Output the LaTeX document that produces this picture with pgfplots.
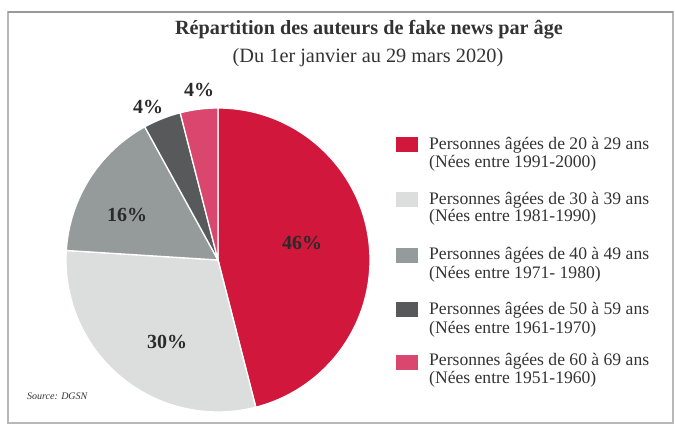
\documentclass[border=0pt]{standalone}
\usepackage{pgfplots}
\pgfplotsset{compat=1.18}
\usepackage{pgfplotstable}
\usepackage{fontspec}
\setmainfont{Liberation Serif}
\definecolor{slice0}{HTML}{D2173C}
\definecolor{slice1}{HTML}{DCDDDD}
\definecolor{slice2}{HTML}{959B9B}
\definecolor{slice3}{HTML}{58595B}
\definecolor{slice4}{HTML}{D9476F}
\definecolor{txt}{HTML}{333333}
\definecolor{lbl}{HTML}{2A2A2A}
\pgfplotstableread{
value
46
30
16
4
4
}\piedata
\begin{document}
\begin{tikzpicture}
\begin{axis}[width=675pt, height=426pt, scale only axis,
  xmin=0, xmax=675, ymin=0, ymax=426, hide axis, clip=false]
\path (axis cs:0,0) rectangle (axis cs:675,426);
\draw[color=black!28, line width=1.8pt] (axis cs:8,3) rectangle (axis cs:673,414);
\draw[color=black!40, line width=1.8pt] (axis cs:8,414) -- (axis cs:673,414);
% pie
\def\cum{90}
\pgfplotsforeachungrouped \i in {0,...,4}{%
  \pgfplotstablegetelem{\i}{value}\of\piedata
  \pgfmathsetmacro\ea{\cum-3.6*\pgfplotsretval}%
  \pgfmathsetmacro\px{218+152*cos(\cum)}%
  \pgfmathsetmacro\py{166+152*sin(\cum)}%
  \edef\temp{\noexpand\fill[fill=slice\i, draw=white, line width=1.3pt] (axis cs:218,166) -- (axis cs:\px,\py) arc[start angle=\cum, end angle=\ea, radius=152pt] -- cycle;}%
  \temp
  \let\cum\ea
}
% percent labels
\begin{scope}[every node/.style={font=\bfseries\fontsize{20}{20}\selectfont, text=lbl}]
\node at (axis cs:302,183) {46\%};
\node at (axis cs:167,84) {30\%};
\node at (axis cs:127,211) {16\%};
\node at (axis cs:148,319) {4\%};
\node at (axis cs:199,336) {4\%};
\end{scope}
% titles
\node[font=\bfseries\fontsize{20.2}{21}\selectfont, text=txt] at (axis cs:369,396) {Répartition des auteurs de fake news par âge};
\node[font=\fontsize{20.3}{21}\selectfont, text=txt] at (axis cs:368,368) {(Du 1er janvier au 29 mars 2020)};
% legend
\begin{scope}[every node/.style={font=\fontsize{17.6}{18}\selectfont, text=txt, anchor=base west, inner sep=0pt}]
\fill[slice0] (axis cs:396,273.5) rectangle (axis cs:418,288.5);
\node at (axis cs:429,276) {Personnes âgées de 20 à 29 ans};
\node at (axis cs:429,258) {(Nées entre 1991-2000)};
\fill[slice1] (axis cs:396,218.5) rectangle (axis cs:418,233.5);
\node at (axis cs:429,221) {Personnes âgées de 30 à 39 ans};
\node at (axis cs:429,204) {(Nées entre 1981-1990)};
\fill[slice2] (axis cs:396,162.5) rectangle (axis cs:418,177.5);
\node at (axis cs:429,166) {Personnes âgées de 40 à 49 ans};
\node at (axis cs:429,147) {(Nées entre 1971- 1980)};
\fill[slice3] (axis cs:396,108.5) rectangle (axis cs:418,123.5);
\node at (axis cs:429,111) {Personnes âgées de 50 à 59 ans};
\node at (axis cs:429,92) {(Nées entre 1961-1970)};
\fill[slice4] (axis cs:396,55.5) rectangle (axis cs:418,70.5);
\node at (axis cs:429,60) {Personnes âgées de 60 à 69 ans};
\node at (axis cs:429,42) {(Nées entre 1951-1960)};
\end{scope}
\node[font=\itshape\fontsize{10}{10}\selectfont, text=txt, anchor=west, inner sep=0pt] at (axis cs:27,30) {Source: DGSN};
\end{axis}
\end{tikzpicture}
\end{document}
